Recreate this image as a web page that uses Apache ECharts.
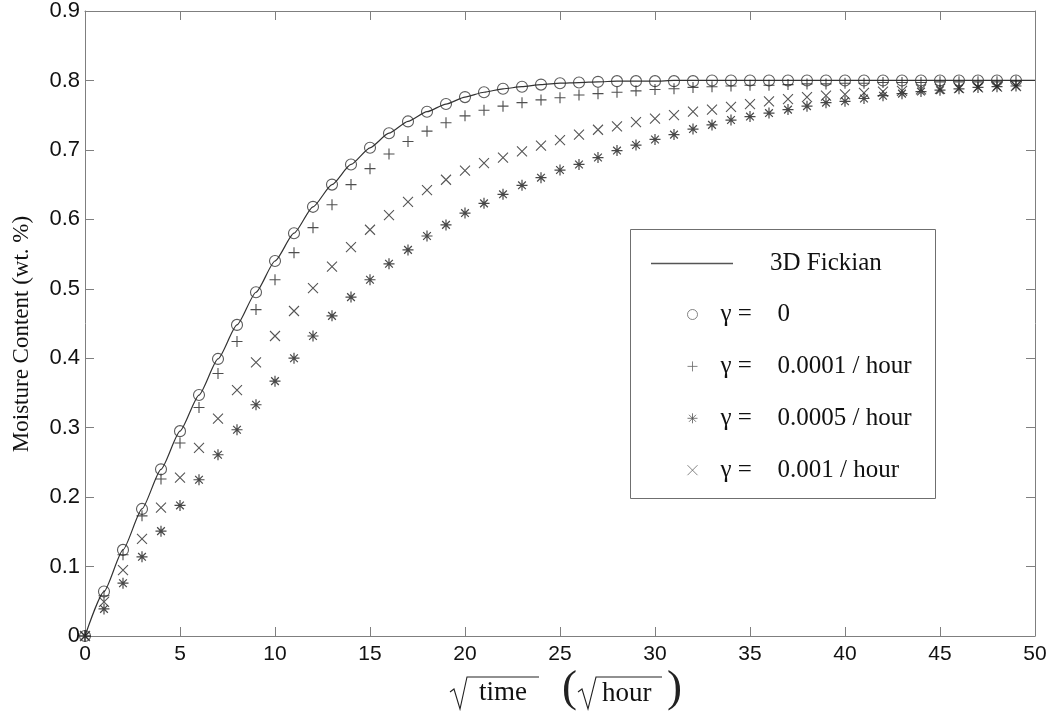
<!DOCTYPE html>
<html>
<head>
<meta charset="utf-8">
<script src="https://cdn.jsdelivr.net/npm/echarts@6/dist/echarts.min.js"></script>
<style>
html,body{margin:0;padding:0;background:#fff;}
#chart{width:1050px;height:712px;}
</style>
</head>
<body>
<div id="chart"></div>
<script>
// ---- data ----
const sqrtTime = [0,1,2,3,4,5,6,7,8,9,10,11,12,13,14,15,16,17,18,19,20,21,22,23,24,25,26,27,28,29,30,31,32,33,34,35,36,37,38,39,40,41,42,43,44,45,46,47,48,49];
const fickianX = [0,1,2,3,4,5,6,7,8,9,10,11,12,13,14,15,16,17,18,19,20,21,22,23,24,25,26,27,28,29,30,31,32,33,34,35,36,37,38,39,40,41,42,43,44,45,46,47,48,49,50];
const fickian = [0,0.064,0.124,0.183,0.240,0.295,0.347,0.399,0.448,0.495,0.540,0.580,0.618,0.650,0.679,0.703,0.724,0.741,0.755,0.766,0.776,0.783,0.788,0.791,0.794,0.796,0.797,0.798,0.799,0.799,0.799,0.8,0.8,0.8,0.8,0.8,0.8,0.8,0.8,0.8,0.8,0.8,0.8,0.8,0.8,0.8,0.8,0.8,0.8,0.8,0.8];
const gamma0 = [0,0.064,0.124,0.183,0.240,0.295,0.347,0.399,0.448,0.495,0.540,0.580,0.618,0.650,0.679,0.703,0.724,0.741,0.755,0.766,0.776,0.783,0.788,0.791,0.794,0.796,0.797,0.798,0.799,0.799,0.799,0.799,0.799,0.8,0.8,0.8,0.8,0.8,0.8,0.8,0.8,0.8,0.8,0.8,0.8,0.8,0.8,0.8,0.8,0.8];
const gamma1e4 = [0,0.058,0.117,0.173,0.226,0.278,0.329,0.378,0.424,0.470,0.513,0.552,0.588,0.621,0.650,0.673,0.694,0.712,0.727,0.739,0.749,0.757,0.763,0.768,0.772,0.775,0.779,0.781,0.783,0.785,0.787,0.788,0.790,0.791,0.792,0.793,0.793,0.794,0.795,0.795,0.796,0.796,0.797,0.797,0.797,0.798,0.798,0.798,0.798,0.799];
const gamma5e4 = [0,0.039,0.076,0.114,0.151,0.188,0.225,0.261,0.297,0.333,0.367,0.400,0.432,0.461,0.488,0.513,0.536,0.556,0.576,0.592,0.609,0.623,0.636,0.649,0.660,0.671,0.679,0.689,0.699,0.707,0.715,0.722,0.730,0.736,0.743,0.748,0.753,0.758,0.763,0.768,0.770,0.774,0.778,0.781,0.784,0.786,0.788,0.790,0.791,0.792];
const gamma1e3 = [0,0.049,0.095,0.140,0.185,0.228,0.271,0.313,0.354,0.394,0.432,0.468,0.501,0.532,0.560,0.585,0.606,0.625,0.642,0.657,0.670,0.681,0.689,0.698,0.706,0.714,0.722,0.729,0.734,0.740,0.745,0.750,0.755,0.758,0.762,0.766,0.770,0.773,0.776,0.778,0.780,0.782,0.784,0.785,0.787,0.788,0.789,0.790,0.791,0.792];
const xTicks = {min:0, max:50, interval:5};
const yTicks = {min:0, max:0.9, interval:0.1};
const seriesNames = ['3D Fickian','γ = 0','γ = 0.0001 / hour','γ = 0.0005 / hour','γ = 0.001 / hour'];
const yAxisTitle = 'Moisture Content (wt. %)';

// ---- styles ----
const SERIF = '"Liberation Serif","Times New Roman",serif';
const SANS = '"Liberation Sans",Arial,sans-serif';
const AX = '#7f7f7f';
const PLUS = 'path://M5,0 L5,10 M0,5 L10,5';
const STAR = 'path://M5,0 L5,10 M0,5 L10,5 M1.5,1.5 L8.5,8.5 M1.5,8.5 L8.5,1.5';
const CROSS = 'path://M0,0 L10,10 M0,10 L10,0';
const pairs = (xs, ys) => ys.map((y,i)=>[xs[i], y]);
const mk = (stroke, w) => ({color:'rgba(0,0,0,0)', borderColor:stroke, borderWidth:w});

function axisBase(extra){
  return Object.assign({
    type:'value', splitLine:{show:false},
    axisLine:{show:true, onZero:false, lineStyle:{color:AX, width:1}},
    axisTick:{show:true, inside:true, length:9, lineStyle:{color:AX}},
  }, extra);
}

const chart = echarts.init(document.getElementById('chart'), null, {renderer:'canvas'});
const option = {
  animation:false,
  backgroundColor:'#ffffff',
  grid:{left:85, right:15, top:10, bottom:76, containLabel:false},
  xAxis:[
    axisBase({min:xTicks.min, max:xTicks.max, interval:xTicks.interval, position:'bottom',
      axisLabel:{fontFamily:SANS, fontSize:21, color:'#111', margin:8}}),
    axisBase({min:xTicks.min, max:xTicks.max, interval:xTicks.interval, position:'top',
      axisLabel:{show:false}})
  ],
  yAxis:[
    axisBase({min:yTicks.min, max:yTicks.max, interval:yTicks.interval, position:'left',
      axisLabel:{fontFamily:SANS, fontSize:22, color:'#111', margin:5,
        formatter:v => v===0 ? '0' : v.toFixed(1)}}),
    axisBase({min:yTicks.min, max:yTicks.max, interval:yTicks.interval, position:'right',
      axisLabel:{show:false}})
  ],
  legend:[
    {
      data:[{name:seriesNames[0], icon:'rect', itemStyle:{color:'#555', borderWidth:0}}],
      orient:'vertical', left:646, top:246, itemWidth:82, itemHeight:1.3,
      selectedMode:false, z:5,
      formatter:n => '{t|' + n + '}',
      textStyle:{rich:{t:{fontFamily:SERIF, fontSize:25, color:'#111', padding:[0,0,0,32]}}}
    },
    {
      data:[
        {name:seriesNames[1], icon:'circle', itemStyle:mk('#666',1)},
        {name:seriesNames[2], icon:PLUS, itemStyle:mk('#666',1)},
        {name:seriesNames[3], icon:STAR, itemStyle:mk('#555',1)},
        {name:seriesNames[4], icon:CROSS, itemStyle:mk('#666',1)}
      ],
      orient:'vertical', left:682, top:297, itemWidth:10, itemHeight:10, itemGap:26.9,
      selectedMode:false, z:5,
      formatter:n => '{g|γ =}{v|' + n.slice(4) + '}',
      textStyle:{rich:{
        g:{fontFamily:SERIF, fontSize:25, color:'#111', width:57, padding:[0,0,0,18]},
        v:{fontFamily:SERIF, fontSize:25, color:'#111'}
      }}
    }
  ],
  graphic:[
    {type:'rect', z:3, shape:{x:630.5, y:229.5, width:305, height:269}, style:{fill:'#fff', stroke:'#6f6f6f', lineWidth:1}},
    {type:'text', z:3, x:22, y:334, rotation:Math.PI/2, style:{text:yAxisTitle, font:'23px ' + SERIF, fill:'#111', textAlign:'center', textVerticalAlign:'middle'}},
    {type:'polyline', z:3, shape:{points:[[450,692],[454,689],[460,709],[467,677],[539,677]]}, style:{stroke:'#222', lineWidth:1.1, fill:null}},
    {type:'text', z:3, x:479, y:706, style:{text:'time', font:'27px ' + SERIF, fill:'#111', textAlign:'left', textVerticalAlign:'bottom'}},
    {type:'text', z:3, x:562, y:712, style:{text:'(', font:'45px ' + SERIF, fill:'#222', textAlign:'left', textVerticalAlign:'bottom'}},
    {type:'polyline', z:3, shape:{points:[[578,692],[582,689],[588,709],[596,677],[662,677]]}, style:{stroke:'#222', lineWidth:1.1, fill:null}},
    {type:'text', z:3, x:602, y:707, style:{text:'hour', font:'27px ' + SERIF, fill:'#111', textAlign:'left', textVerticalAlign:'bottom'}},
    {type:'text', z:3, x:667, y:712, style:{text:')', font:'45px ' + SERIF, fill:'#222', textAlign:'left', textVerticalAlign:'bottom'}}
  ],
  series:[
    {name:seriesNames[0], type:'line', data:pairs(fickianX, fickian), symbol:'none', smooth:0.2, smoothMonotone:'x',
      lineStyle:{color:'#333', width:1.2}, itemStyle:{color:'#333'}, z:2, silent:true},
    {name:seriesNames[1], type:'scatter', data:pairs(sqrtTime, gamma0), symbol:'circle', symbolSize:11,
      itemStyle:mk('#333',1.1), z:2, silent:true},
    {name:seriesNames[2], type:'scatter', data:pairs(sqrtTime, gamma1e4), symbol:PLUS, symbolSize:11,
      itemStyle:mk('#222',1.1), z:2, silent:true},
    {name:seriesNames[3], type:'scatter', data:pairs(sqrtTime, gamma5e4), symbol:STAR, symbolSize:11,
      itemStyle:mk('#1a1a1a',1.2), z:2, silent:true},
    {name:seriesNames[4], type:'scatter', data:pairs(sqrtTime, gamma1e3), symbol:CROSS, symbolSize:10,
      itemStyle:mk('#2a2a2a',1.1), z:2, silent:true}
  ]
};
chart.setOption(option);
</script>
</body>
</html>
